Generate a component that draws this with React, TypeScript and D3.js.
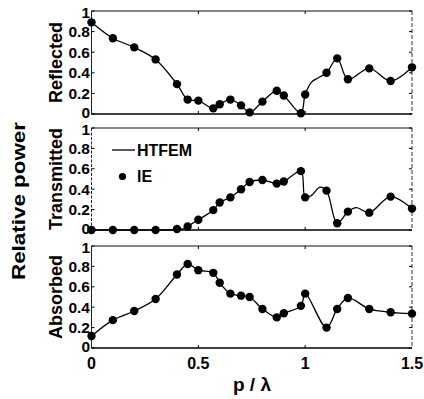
import React from "react";
import * as d3 from "d3";

// ---- data ----
const xIE = [0, 0.1, 0.2, 0.3, 0.4, 0.45, 0.5, 0.57, 0.6, 0.65, 0.7, 0.74, 0.8, 0.867, 0.9, 0.98, 1.0, 1.1, 1.15, 1.2, 1.3, 1.4, 1.5];
const reflIE = [0.89, 0.735, 0.647, 0.53, 0.29, 0.14, 0.13, 0.055, 0.094, 0.14, 0.084, 0.016, 0.12, 0.226, 0.18, 0.007, 0.19, 0.4, 0.54, 0.337, 0.443, 0.32, 0.453];
const transIE = [0, 0, 0, 0, 0.01, 0.035, 0.1, 0.195, 0.27, 0.32, 0.4, 0.47, 0.49, 0.455, 0.475, 0.577, 0.32, 0.386, 0.066, 0.18, 0.17, 0.327, 0.21];
const absIE = [0.117, 0.273, 0.363, 0.48, 0.72, 0.823, 0.763, 0.737, 0.64, 0.533, 0.513, 0.5, 0.383, 0.3, 0.34, 0.413, 0.533, 0.2, 0.383, 0.49, 0.383, 0.35, 0.337];

// HTFEM curves (denser where the curve departs from the IE points)
const xReflLine = [0, 0.1, 0.2, 0.3, 0.4, 0.45, 0.5, 0.57, 0.6, 0.65, 0.7, 0.74, 0.8, 0.867, 0.9, 0.98, 1.0, 1.03, 1.06, 1.1, 1.15, 1.2, 1.3, 1.4, 1.5];
const reflLine = [0.89, 0.735, 0.647, 0.53, 0.29, 0.14, 0.13, 0.055, 0.094, 0.14, 0.084, 0.016, 0.12, 0.226, 0.18, 0.007, 0.19, 0.31, 0.35, 0.4, 0.54, 0.337, 0.443, 0.32, 0.453];
const xTransLine = [0, 0.1, 0.2, 0.3, 0.4, 0.43, 0.45, 0.5, 0.57, 0.6, 0.65, 0.7, 0.74, 0.8, 0.867, 0.9, 0.98, 1.0, 1.03, 1.07, 1.1, 1.15, 1.2, 1.24, 1.3, 1.4, 1.5];
const transLine = [0, 0, 0, 0, 0.005, 0.01, 0.035, 0.1, 0.195, 0.27, 0.32, 0.4, 0.47, 0.49, 0.455, 0.475, 0.577, 0.32, 0.34, 0.42, 0.386, 0.066, 0.18, 0.22, 0.17, 0.327, 0.21];
const xAbsLine = xIE;
const absLine = absIE;

const yTicks = [0, 0.2, 0.4, 0.6, 0.8, 1];
const yTickLabels = ["0", "0.2", "0.4", "0.6", "0.8", "1"];
const xTicks = [0, 0.5, 1, 1.5];
const xTickLabels = ["0", "0.5", "1", "1.5"];
const panelTitles = ["Reflected", "Transmitted", "Absorbed"];

const W = 424, H = 399;
const left = 91.5, right = 412;
const tops = [11, 128, 246];
const bottoms = [114, 230, 348];
const FONT = "'Liberation Sans', Arial, Helvetica, sans-serif";

export default function App() {
  const x = d3.scaleLinear().domain([0, 1.5]).range([left, right]);
  const panels = [
    { ie: reflIE, lx: xReflLine, ly: reflLine },
    { ie: transIE, lx: xTransLine, ly: transLine },
    { ie: absIE, lx: xAbsLine, ly: absLine },
  ];
  return (
    <svg width={W} height={H} style={{ position: "absolute", left: 0, top: 0, background: "#fff" }} fontFamily={FONT}>
      <rect x={0} y={0} width={W} height={H} fill="#fff" />
      {panels.map((p, i) => {
        const y = d3.scaleLinear().domain([0, 1]).range([bottoms[i], tops[i]]);
        const line = d3
          .line<number>()
          .x((_, k) => x(p.lx[k]))
          .y((v) => y(v))
          .curve(d3.curveCatmullRom.alpha(0.5));
        const mid = (tops[i] + bottoms[i]) / 2;
        return (
          <g key={i}>
            {/* box */}
            <line x1={left} x2={right} y1={tops[i]} y2={tops[i]} stroke="#111" strokeWidth={1.2} />
            <line x1={left} x2={right} y1={bottoms[i]} y2={bottoms[i]} stroke="#000" strokeWidth={1.6} />
            <line x1={left} x2={left} y1={tops[i]} y2={bottoms[i]} stroke="#222" strokeWidth={1} strokeDasharray={i === 1 ? "3,1.5" : undefined} />
            <line x1={right} x2={right} y1={tops[i]} y2={bottoms[i]} stroke="#333" strokeWidth={1} strokeDasharray="4,2" />
            {/* y ticks */}
            {yTicks.map((t, k) => (
              <g key={k}>
                <line x1={left} x2={left + 3} y1={y(t)} y2={y(t)} stroke="#000" strokeWidth={1} />
                <line x1={right - 3} x2={right} y1={y(t)} y2={y(t)} stroke="#000" strokeWidth={1} />
                <text
                  x={90}
                  y={y(t) + (t === 0 ? 4 : t === 1 ? 6.5 : 5.3)}
                  textAnchor="end"
                  fontSize={15.5}
                  fontWeight="bold"
                  fill="#000"
                >
                  {yTickLabels[k]}
                </text>
              </g>
            ))}
            {/* x ticks */}
            {xTicks.slice(1, 3).map((t, k) => (
              <g key={k}>
                <line x1={x(t)} x2={x(t)} y1={bottoms[i]} y2={bottoms[i] - 3} stroke="#000" strokeWidth={1} />
                <line x1={x(t)} x2={x(t)} y1={tops[i]} y2={tops[i] + 3} stroke="#000" strokeWidth={1} />
              </g>
            ))}
            <path d={line(p.ly) || ""} fill="none" stroke="#000" strokeWidth={1.3} />
            {p.ie.map((v, k) => (
              <circle key={k} cx={x(xIE[k])} cy={y(v)} r={4.2} fill="#000" />
            ))}
            <text
              transform={`translate(62,${mid}) rotate(-90)`}
              textAnchor="middle"
              fontSize={18}
              fontWeight="bold"
              fill="#000"
            >
              {panelTitles[i]}
            </text>
          </g>
        );
      })}
      {/* x tick labels */}
      {xTicks.map((t, k) => (
        <text key={k} x={x(t)} y={368.5} textAnchor="middle" fontSize={16} fontWeight="bold" fill="#000">
          {xTickLabels[k]}
        </text>
      ))}
      <text x={252} y={391} textAnchor="middle" fontSize={19} fontWeight="bold" fill="#000">
        p / λ
      </text>
      <text
        transform={`translate(25,201) rotate(-90)`}
        textAnchor="middle"
        fontSize={19}
        fontWeight="bold"
        fill="#000"
        textLength={158}
        lengthAdjust="spacingAndGlyphs"
      >
        Relative power
      </text>
      {/* legend */}
      <line x1={112} x2={135} y1={150} y2={150} stroke="#000" strokeWidth={1.3} />
      <text x={137} y={155.5} fontSize={16} fontWeight="bold" fill="#000">HTFEM</text>
      <circle cx={122.5} cy={176.5} r={3.6} fill="#000" />
      <text x={137} y={182} fontSize={16} fontWeight="bold" fill="#000">IE</text>
    </svg>
  );
}
